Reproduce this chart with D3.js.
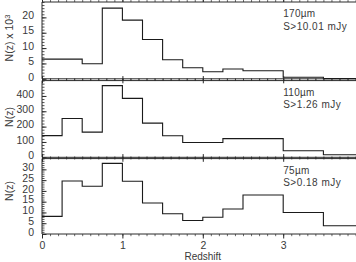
<!DOCTYPE html>
<html><head><meta charset="utf-8">
<script src="https://cdn.jsdelivr.net/npm/d3@7"></script>
<style>
html,body{margin:0;padding:0;background:#fff;}
svg text{font-family:"Liberation Sans",Arial,sans-serif;fill:#3a3a3a;}
</style></head>
<body><svg id="c" width="356" height="262"></svg>
<script>
// ---- data ----
const edges170 = [0,0.5,0.75,1,1.25,1.5,1.75,2,2.25,2.5,3,3.5,4];
const n170 = [6.4,4.9,23.0,19.1,12.8,6.2,3.6,2.3,3.2,2.6,0.5,0.05];
const edges110 = [0,0.25,0.5,0.75,1,1.25,1.5,1.75,2.25,3,3.5,4];
const n110 = [141,253,164,467,384,223,140,96,122,43,17];
const edges75 = [0,0.25,0.5,0.75,1,1.25,1.5,1.75,2,2.25,2.5,3,3.5,4];
const n75 = [8.2,24.6,22.2,32.8,24.5,14.4,9.4,6.3,7.8,11.6,18.1,10.0,3.8];
const xTicks = [0,1,2,3];
const yTicks170 = [0,5,10,15,20];
const yTicks110 = [0,100,200,300,400];
const yTicks75 = [0,5,10,15,20,25,30];
const labels = [["170\u00B5m","S>10.01  mJy"],["110\u00B5m","S>1.26  mJy"],["75\u00B5m","S>0.18  mJy"]];

const svg = d3.select("#c");
const left = 42, unit = 80.4;
const x = d3.scaleLinear().domain([0,4]).range([left, left+4*unit]);
const minorX = d3.range(0, 4.001, 0.1);

const panels = [
  {top:2, bot:78.8, dom:[0,25], edges:edges170, vals:n170, ticks:yTicks170, minor:1, lab:labels[0]},
  {top:80.6, bot:157.3, dom:[0,500], edges:edges110, vals:n110, ticks:yTicks110, minor:20, lab:labels[1]},
  {top:158.6, bot:234, dom:[0,35], edges:edges75, vals:n75, ticks:yTicks75, minor:1, lab:labels[2]}
];
const stroke = "#2a2a2a";

panels.forEach((p,i) => {
  const y = d3.scaleLinear().domain(p.dom).range([p.bot, p.top]);
  const g = svg.append("g");
  g.append("line").attr("x1",left).attr("x2",left).attr("y1",p.top).attr("y2",p.bot).attr("stroke",stroke);
  g.append("line").attr("x1",left).attr("x2",356).attr("y1",p.top).attr("y2",p.top).attr("stroke",stroke);
  g.append("line").attr("x1",left).attr("x2",356).attr("y1",p.bot).attr("y2",p.bot).attr("stroke",stroke);
  const ya = d3.axisLeft(y).tickValues(p.ticks).tickSize(-4.5).tickPadding(8).tickFormat(d3.format("d"));
  const yg = g.append("g").attr("transform",`translate(${left},0)`).call(ya);
  yg.select(".domain").remove();
  yg.selectAll("line").attr("stroke",stroke);
  yg.selectAll("text").attr("font-size","10.5px").attr("dy","0.12em").attr("fill","#3a3a3a");
  const ym = d3.axisLeft(y).tickValues(d3.range(p.dom[0], p.dom[1]+1e-9, p.minor)).tickSize(-2.5).tickFormat("");
  const ymg = g.append("g").attr("transform",`translate(${left},0)`).call(ym);
  ymg.select(".domain").remove();
  ymg.selectAll("line").attr("stroke",stroke).attr("stroke-width",0.8);
  [[p.bot, -1],[p.top, 1]].forEach(([yy,dir]) => {
    const xb = d3.axisBottom(x).tickValues(xTicks).tickSize(-4.5*dir).tickFormat("");
    const xbg = g.append("g").attr("transform",`translate(0,${yy})`).call(xb);
    xbg.select(".domain").remove();
    xbg.selectAll("line").attr("stroke",stroke);
    const xm = d3.axisBottom(x).tickValues(minorX).tickSize(-2.2*dir).tickFormat("");
    const xmg = g.append("g").attr("transform",`translate(0,${yy})`).call(xm);
    xmg.select(".domain").remove();
    xmg.selectAll("line").attr("stroke",stroke).attr("stroke-width",0.7);
  });
  const pts = p.vals.map((v,j)=>[p.edges[j], v]);
  pts.push([p.edges[p.edges.length-1], p.vals[p.vals.length-1]]);
  const line = d3.line().x(d=>x(d[0])).y(d=>y(d[1])).curve(d3.curveStepAfter);
  g.append("path").attr("d", line(pts)).attr("fill","none").attr("stroke","#1a1a1a").attr("stroke-width",1.1);
  g.append("text").attr("x", x(3)).attr("y", p.top+15).attr("font-size","10px").attr("letter-spacing","0.3px").text(p.lab[0]);
  g.append("text").attr("x", x(3)).attr("y", p.top+27.5).attr("font-size","10px").attr("letter-spacing","0.5px").text(p.lab[1]);
});

const t1 = svg.append("text").attr("transform","translate(13,38) rotate(-90)").attr("text-anchor","middle").attr("font-size","10.5px");
t1.append("tspan").text("N(z)  x  10");
t1.append("tspan").attr("dy","-0.45em").attr("font-size","7.5px").text("3");
svg.append("text").attr("transform","translate(13,117) rotate(-90)").attr("text-anchor","middle").attr("font-size","10.5px").text("N(z)");
svg.append("text").attr("transform","translate(13,191) rotate(-90)").attr("text-anchor","middle").attr("font-size","10.5px").text("N(z)");

const xa = d3.axisBottom(x).tickValues(xTicks).tickSize(0).tickPadding(8).tickFormat(d3.format("d"));
const xg = svg.append("g").attr("transform","translate(0,234)").call(xa);
xg.select(".domain").remove();
xg.selectAll("text").attr("font-size","10.5px").attr("fill","#3a3a3a");
svg.append("text").attr("x", x(2)).attr("y", 259.5).attr("text-anchor","middle").attr("font-size","10px").text("Redshift");
</script></body></html>
